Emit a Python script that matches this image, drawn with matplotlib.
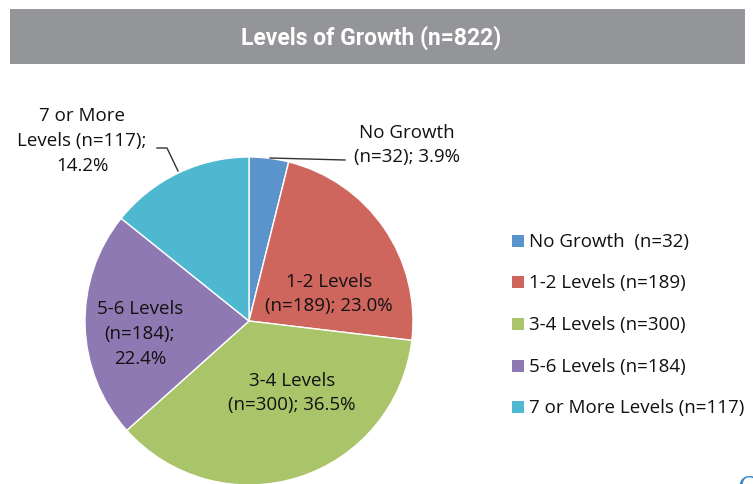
import matplotlib
matplotlib.use("Agg")
import matplotlib.pyplot as plt
from matplotlib.patches import Rectangle

categories = ["No Growth", "1-2 Levels", "3-4 Levels", "5-6 Levels", "7 or More Levels"]
counts = [32, 189, 300, 184, 117]
percents = [3.9, 23.0, 36.5, 22.4, 14.2]
legend_labels = ["No Growth  (n=32)", "1-2 Levels (n=189)", "3-4 Levels (n=300)",
                 "5-6 Levels (n=184)", "7 or More Levels (n=117)"]
title = "Levels of Growth (n=822)"
colors = ["#5B93CC", "#CF665E", "#AAC46A", "#8F79B3", "#4EB8D1"]

title_font = "Roboto"
body_font = "Open Sans"

W, H = 753, 485
fig = plt.figure(figsize=(W / 100, H / 100), dpi=100)

# pie in its own axes positioned in pixels
cx, cy, r = 249, 322, 164
pax = fig.add_axes([(cx - r) / W, (H - cy - r) / H, 2 * r / W, 2 * r / H])
wedges, _ = pax.pie(counts, colors=colors, startangle=90, counterclock=False,
                    wedgeprops=dict(edgecolor="white", linewidth=1.0))
pax.set_xlim(-1, 1)
pax.set_ylim(-1, 1)
pax.set_aspect("equal")
for w in wedges:
    w.set_clip_on(False)

# overlay axes in pixel coordinates for annotations
ax = fig.add_axes([0, 0, 1, 1])
ax.patch.set_alpha(0)
ax.set_xlim(0, W)
ax.set_ylim(H, 0)
ax.axis("off")

# title bar
ax.add_patch(Rectangle((10, 10), 735, 55, facecolor="#939598", edgecolor="none"))
ax.text(371, 38, title, ha="center", va="center", color="white",
        fontsize=16.5, fontweight="bold", family=title_font)

fs = 13.5
lbl = dict(fontsize=fs, family=body_font, color="#111111", linespacing=1.48)

def txt(i, fmt):
    return fmt.format(c=categories[i], n=counts[i], p=percents[i])

ax.text(407, 145, txt(0, "{c}\n(n={n}); {p:.1f}%"), ha="center", va="center", **lbl)
ax.text(329, 294, txt(1, "{c}\n(n={n}); {p:.1f}%"), ha="center", va="center", **lbl)
ax.text(292, 393, txt(2, "{c}\n(n={n}); {p:.1f}%"), ha="center", va="center", **lbl)
ax.text(140, 334, txt(3, "{c}\n(n={n});\n{p:.1f}%"), ha="center", va="center", **lbl)
ax.text(82, 141, "7 or More\nLevels (n={n});\n{p:.1f}%".format(n=counts[4], p=percents[4]),
        ha="center", va="center", **lbl)

# leader lines
ax.plot([270, 345], [159, 161], color="#333333", lw=1.0)
ax.plot([157, 167, 178], [149, 149, 172], color="#333333", lw=1.0)

# legend
ys = [242, 283, 325, 367, 408]
for y, col, lab in zip(ys, colors, legend_labels):
    ax.add_patch(Rectangle((512, y - 6), 12, 12, facecolor=col, edgecolor="none"))
    ax.text(529, y, lab, ha="left", va="center", fontsize=fs, family=body_font,
            color="#111111")

# partial glyph at bottom right
ax.text(738, 497, "C", ha="left", va="baseline", fontsize=20, family="DejaVu Serif",
        color="#3A88C8")

fig.savefig("out.png", dpi=100)
